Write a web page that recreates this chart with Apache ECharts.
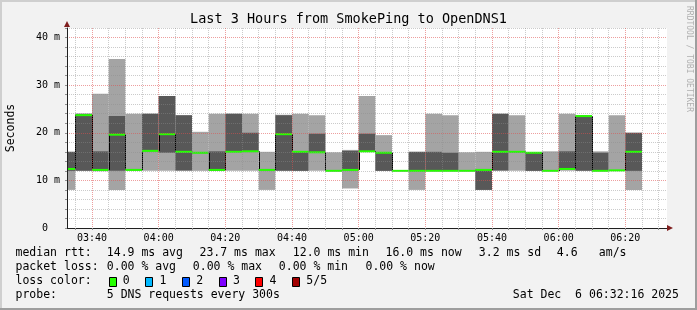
<!DOCTYPE html>
<html>
<head>
<meta charset="utf-8">
<script src="https://cdn.jsdelivr.net/npm/echarts@6/dist/echarts.min.js"></script>
<style>html,body{margin:0;padding:0;background:#f2f2f2;}#c{width:697px;height:310px;}</style>
</head>
<body>
<div id="c"></div>
<script>
// ---- data ----
const times   = ['03:35','03:40','03:45','03:50','03:55','04:00','04:05','04:10','04:15','04:20','04:25','04:30','04:35','04:40','04:45','04:50','04:55','05:00','05:05','05:10','05:15','05:20','05:25','05:30','05:35','05:40','05:45','05:50','05:55','06:00','06:05','06:10','06:15','06:20','06:25'];
const pingMin = [8, 12, 11.9, 8, 12, 12, 12, 12, 12, 12, 12, 12, 8, 12, 12, 12, 11.9, 8.3, 16, 12, 12, 8, 12, 12, 12, 8, 12, 12, 12, 12, 12, 12, 12, 12, 8];
const ping2   = [12, 12, 12, 12, 12.1, 16.1, 15.8, 12.1, 15.7, 12, 16, 16, 12.1, 12, 12, 15.8, 12, 12.1, 16, 12, 12, 12, 12, 12, 12, 8, 12.1, 15.9, 12, 12, 12.3, 12, 12, 12, 12];
const median  = [12.4, 23.7, 12.2, 19.6, 12.2, 16.2, 19.7, 16, 15.8, 12.2, 16, 16.1, 12.2, 19.7, 16, 15.9, 12, 12.2, 16.1, 15.8, 12, 12, 12, 12, 12, 12.2, 16, 16, 15.8, 12, 12.4, 23.5, 12, 12.1, 16];
const ping4   = [16, 24, 16.1, 23.5, 12.3, 24, 27.7, 23.7, 15.9, 16.1, 24, 20, 12.3, 23.7, 16.1, 19.8, 12.1, 16.2, 19.8, 15.9, 12, 16, 16, 15.8, 12, 12.2, 24, 16.1, 15.8, 12, 16.1, 23.6, 15.8, 12.1, 20];
const pingMax = [16, 24, 28.2, 35.5, 24, 24, 27.7, 23.7, 20.2, 24, 24, 24, 16, 23.8, 24, 23.7, 15.9, 16.4, 27.7, 19.5, 12, 16, 24, 23.7, 15.9, 16, 24, 23.7, 15.8, 16.1, 24, 23.6, 16.1, 23.7, 20];
const xTickLabels = ['03:40','04:00','04:20','04:40','05:00','05:20','05:40','06:00','06:20'];
const yTickLabels = [0, 10, 20, 30, 40];
const startTime = '03:32:30', endTime = '06:32:30';
const statsLine1 = ['median rtt:', '14.9 ms avg', '23.7 ms max', '12.0 ms min', '16.0 ms now', '3.2 ms sd', '4.6', 'am/s'];
const statsLine2 = ['packet loss:', '0.00 % avg', '0.00 % max', '0.00 % min', '0.00 % now'];
const lossLabels = ['0', '1', '2', '3', '4', '5/5'];
const lossColors = ['#26ff00', '#00b8ff', '#0059ff', '#7e00ff', '#ff0000', '#a10000'];
const probeText = ['probe:', '5 DNS requests every 300s', 'Sat Dec  6 06:32:16 2025'];

// ---- helpers ----
function toMin(s){ const p = s.split(':').map(Number); return p[0]*60 + p[1] + (p[2]||0)/60; }
const xMin = toMin(startTime), xMax = toMin(endTime);
const xTickVals = [];
for (let m = Math.ceil(xMin/5)*5; m <= xMax; m += 5) xTickVals.push(m);
const yTickVals = [];
for (let v = 0; v <= 42; v += 2) yTickVals.push(v);
const seriesData = times.map((t,i) => [toMin(t), pingMin[i], ping2[i], median[i], ping4[i], pingMax[i], i>0 ? median[i-1] : median[i]]);

const MONO = "'DejaVu Sans Mono', monospace";
const gridMinor = 'rgba(140,140,140,0.45)';
const gridMajor = 'rgba(222,79,79,0.55)';

function renderItem(params, api){
  const tEnd = api.value(0), tStart = tEnd - 5;
  const cs = params.coordSys;
  const clipR = {x: cs.x, y: cs.y, width: cs.width, height: cs.height};
  function rect(lo, hi){
    const a = api.coord([tStart, hi]), b = api.coord([tEnd, lo]);
    return echarts.graphic.clipRectByRect({x: a[0], y: a[1], width: b[0]-a[0], height: b[1]-a[1]}, clipR);
  }
  const children = [];
  const r1 = rect(api.value(1), api.value(5));
  if (r1) children.push({type:'rect', shape:r1, style:{fill:'#a4a4a4'}});
  const r2 = rect(api.value(2), api.value(4));
  if (r2) children.push({type:'rect', shape:r2, style:{fill:'#585858'}});
  const med = api.value(3), prev = api.value(6);
  const s = api.coord([Math.max(tStart, xMin), med]), e = api.coord([tEnd, med]);
  if (params.dataIndex > 0 && prev !== med) {
    const p0 = api.coord([tStart, prev]);
    children.push({type:'line', shape:{x1:Math.round(p0[0])+0.5, y1:p0[1], x2:Math.round(p0[0])+0.5, y2:s[1]}, style:{stroke:'#000', lineWidth:1}});
  }
  children.push({type:'line', shape:{x1:s[0], y1:s[1], x2:e[0], y2:e[1]}, style:{stroke:'#26ff00', lineWidth:2}});
  return {type:'group', children};
}

// ---- graphics (frame, legend) ----
const graphics = [
  {type:'rect', shape:{x:0,y:0,width:697,height:2}, style:{fill:'#cfcfcf'}, z:-10},
  {type:'rect', shape:{x:0,y:0,width:2,height:310}, style:{fill:'#cfcfcf'}, z:-10},
  {type:'rect', shape:{x:0,y:308,width:697,height:2}, style:{fill:'#9e9e9e'}, z:-10},
  {type:'rect', shape:{x:695,y:0,width:2,height:310}, style:{fill:'#9e9e9e'}, z:-10},
  // arrows
  {type:'polygon', shape:{points:[[64,27],[70,27],[67,21]]}, style:{fill:'#801f1f'}, z:20},
  {type:'polygon', shape:{points:[[667,225],[667,231],[673,228]]}, style:{fill:'#801f1f'}, z:20},
  // watermark
  {type:'text', x:689, y:59, rotation:-Math.PI/2, style:{text:'RRDTOOL / TOBI OETIKER', font:"8px "+MONO, fill:'#b0b0b0', align:'center', verticalAlign:'middle'}}
];
function txt(s, x, y){ graphics.push({type:'text', x:x, y:y, style:{text:s, font:"11.5px "+MONO, fill:'#000', align:'left', verticalAlign:'middle'}}); }
const l1x = [15.5, 106.8, 199.5, 292.8, 385.5, 478.8, 556.8, 598.8];
statsLine1.forEach((s,i)=>txt(s, l1x[i], 253.5));
const l2x = [15.5, 106.8, 192.8, 278.8, 365.5];
statsLine2.forEach((s,i)=>txt(s, l2x[i], 267.5));
txt('loss color:', 15.5, 281.5);
lossLabels.forEach((s,i)=>{
  const bx = 108.5 + i*36.7;
  graphics.push({type:'rect', shape:{x:Math.round(bx)+0.5, y:277.5, width:7, height:9}, style:{fill:lossColors[i], stroke:'#000', lineWidth:1}});
  txt(s, bx + 14.3, 281.5);
});
txt(probeText[0], 15.5, 295.5);
txt(probeText[1], 106.8, 295.5);
txt(probeText[2], 512.8, 295.5);

const chart = echarts.init(document.getElementById('c'), null, {renderer:'canvas'});
chart.setOption({
  animation:false,
  backgroundColor:'#f2f2f2',
  title:{text:'Last 3 Hours from SmokePing to OpenDNS1', left:'center', top:12, padding:0,
         textStyle:{fontFamily:MONO, fontSize:13.5, fontWeight:'normal', color:'#000'}},
  grid:{left:67, right:30, top:28, bottom:82, show:true, backgroundColor:'#fff', borderWidth:0, containLabel:false, outerBoundsMode:'none'},
  xAxis:{type:'value', min:xMin, max:xMax, z:5,
    axisLine:{show:true, lineStyle:{color:'#202020', width:1}},
    axisTick:{show:true, length:2, lineStyle:{color:'#909090'}, customValues:xTickVals},
    axisLabel:{customValues:xTickLabels.map(toMin), formatter:v=>{const h=Math.floor(v/60), m=Math.round(v%60); return (h<10?'0':'')+h+':'+(m<10?'0':'')+m;},
      fontFamily:MONO, fontSize:10, color:'#000', margin:5},
    splitLine:{show:true, lineStyle:{color:[gridMinor, gridMajor, gridMinor, gridMinor], type:[1,1], width:1}}
  },
  yAxis:{type:'value', min:0, max:42, z:5,
    name:'Seconds', nameLocation:'middle', nameRotate:90, nameGap:50,
    nameTextStyle:{fontFamily:MONO, fontSize:11.5, color:'#000'},
    axisLine:{show:true, lineStyle:{color:'#202020', width:1}},
    axisTick:{show:true, length:2, lineStyle:{color:'#909090'}, customValues:yTickVals},
    axisLabel:{customValues:yTickLabels, formatter:v=> v===0 ? '0  ' : v+' m', fontFamily:MONO, fontSize:10, color:'#000', margin:7},
    splitLine:{show:true, lineStyle:{color:[gridMajor, gridMinor, gridMinor, gridMinor, gridMinor], type:[1,1], width:1}}
  },
  series:[{type:'custom', renderItem:renderItem, data:seriesData, encode:{x:0, y:[1,2,3,4,5]}, z:2, silent:true}],
  graphic:graphics
});
</script>
</body>
</html>
